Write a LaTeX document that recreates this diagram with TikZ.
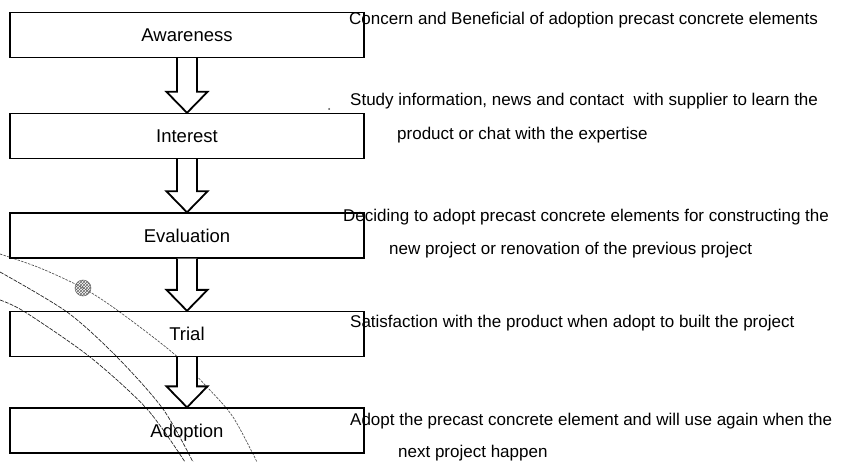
\documentclass[tikz,border=0pt]{standalone}
\usepackage{fontspec}
\setmainfont{Liberation Sans}
\usetikzlibrary{patterns,calc}
\begin{document}
\begin{tikzpicture}[x=1pt,y=-1pt,
  stagebox/.style={draw=black, line width=1.3pt, minimum width=354pt, minimum height=45pt,
    inner sep=0pt, font=\fontsize{18.5}{20}\selectfont, text height=13.2pt, text depth=0pt},
  desc/.style={anchor=base west, inner sep=0pt, font=\fontsize{17}{20}\selectfont},
  hollow/.style={draw=black, line width=1.8pt, fill=white, line join=miter},
  scanA/.style={black!70, line width=0.65pt, dash pattern=on 2.5pt off 1.2pt},
  scanB/.style={black!85, line width=0.7pt, dash pattern=on 4pt off 1.2pt}]
\useasboundingbox (0,0) rectangle (850,462);

% scan artefact curves
\draw[scanA] plot[smooth] coordinates {(0,254) (40,268) (83,288) (117,310) (173,353) (207,387) (233,417) (257,462)};
\draw[scanB] plot[smooth] coordinates {(0,272) (67,312) (117,357) (163,409) (193,462)};
\draw[scanB] plot[smooth] coordinates {(0,300) (25,312) (90,357) (147,409) (185,462)};
\node[circle, draw=black!60, line width=0.5pt, pattern=crosshatch, pattern color=black!60,
  minimum size=16pt, inner sep=0pt] (ball) at (83,288) {};
\fill[black!70] (329,109) circle (1pt);

% stages
\node[stagebox] (aw) at (187,35) {Awareness};
\node[stagebox] (in) at (187,136) {Interest};
\node[stagebox] (ev) at (187,235.5) {Evaluation};
\node[stagebox] (tr) at (187,334) {Trial};
\node[stagebox] (ad) at (187,430.5) {Adoption};

% hollow arrows
\foreach \a/\b in {aw/in, in/ev, ev/tr, tr/ad}{
  \draw[hollow] let \p1=(\a.south), \p2=(\b.north) in
    (\x1-10pt,\y1) -- (\x1-10pt,\y2+21pt) -- (\x1-20.5pt,\y2+21pt) -- (\x1,\y2)
    -- (\x1+20.5pt,\y2+21pt) -- (\x1+10pt,\y2+21pt) -- (\x1+10pt,\y1);
}

% descriptions
\node[desc] (d1) at (349,25) {Concern and Beneficial of adoption precast concrete elements};
\node[desc] (d2a) at (350,106) {Study information, news and contact\ \ with supplier to learn the};
\node[desc] (d2b) at (397,140) {product or chat with the expertise};
\node[desc] (d3a) at (343,222) {Deciding to adopt precast concrete elements for constructing the};
\node[desc] (d3b) at (389,254) {new project or renovation of the previous project};
\node[desc] (d4) at (350,327) {Satisfaction with the product when adopt to built the project};
\node[desc] (d5a) at (350,425) {Adopt the precast concrete element and will use again when the};
\node[desc] (d5b) at (398,457) {next project happen};
\end{tikzpicture}
\end{document}
